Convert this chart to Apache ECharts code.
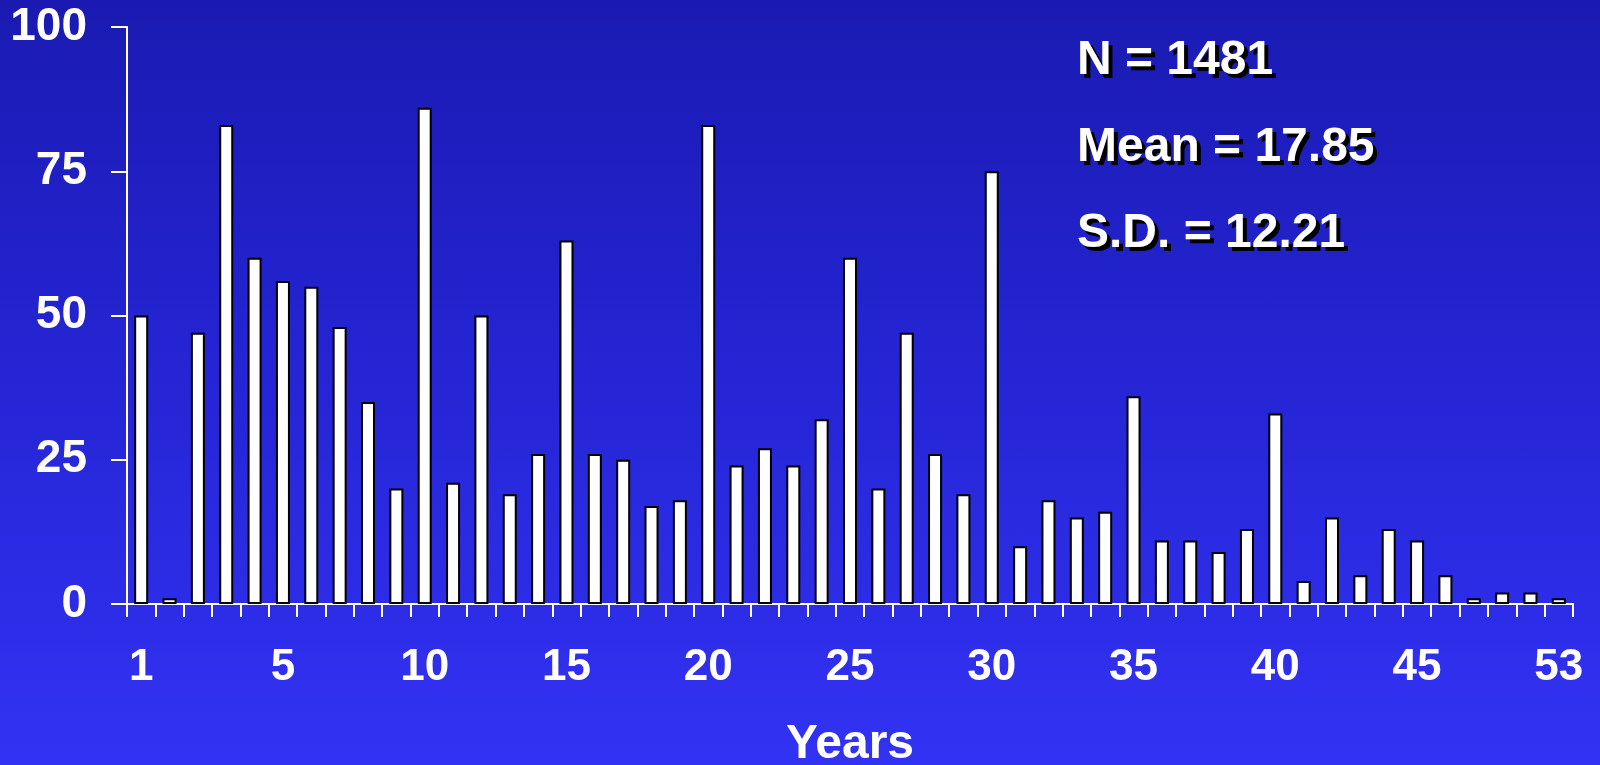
<!DOCTYPE html>
<html>
<head>
<meta charset="utf-8">
<style>
  html, body { margin: 0; padding: 0; }
  #chart {
    width: 1600px; height: 765px;
    background: linear-gradient(to bottom, #1a1ab2 0%, #2424d2 45%, #3232f4 100%);
  }
</style>
<script src="https://cdn.jsdelivr.net/npm/echarts@6/dist/echarts.min.js"></script>
</head>
<body>
<div id="chart"></div>
<script>
// Frequency of cases by year bin (51 bins)
const bins = ['1','2','3','4','5','6','7','8','9','10','11','12','13','14','15','16','17',
  '18','19','20','21','22','23','24','25','26','27','28','29','30','31','32','33','34',
  '35','36','37','38','39','40','41','42','43','44','45','46','47','48','49','50','51'];
const counts = [50, 1, 47, 83, 60, 56, 55, 48, 35, 20,
  86, 21, 50, 19, 26, 63, 26, 25, 17, 18,
  83, 24, 27, 24, 32, 60, 20, 47, 26, 19,
  75, 10, 18, 15, 16, 36, 11, 11, 9, 13,
  33, 4, 15, 5, 13, 11, 5, 1, 2, 2, 1];
// Labels shown under every fifth bin
const xTickLabels = ['1', '5', '10', '15', '20', '25', '30', '35', '40', '45', '53'];
const yTicks = [0, 25, 50, 75, 100];
const stats = ['N = 1481', 'Mean = 17.85', 'S.D. = 12.21'];

const FONT = '"Liberation Sans", Arial, sans-serif';
const chart = echarts.init(document.getElementById('chart'), null, { renderer: 'canvas' });

const statTexts = [];
const statY = [37, 124, 210];
stats.forEach((t, i) => {
  // drop shadow copy
  statTexts.push({
    type: 'text', left: 1081, top: statY[i] + 4, z: 10,
    style: { text: t, fill: '#000', font: 'bold 48px ' + FONT }
  });
  statTexts.push({
    type: 'text', left: 1077, top: statY[i], z: 11,
    style: { text: t, fill: '#fff', font: 'bold 48px ' + FONT }
  });
});

chart.setOption({
  backgroundColor: 'transparent',
  animation: false,
  grid: { left: 127, right: 27, top: 27, bottom: 161, containLabel: false, outerBoundsMode: 'none' },
  xAxis: {
    type: 'category',
    data: bins,
    boundaryGap: true,
    name: 'Years',
    nameLocation: 'middle',
    nameGap: 117,
    nameTextStyle: { color: '#fff', fontSize: 48, fontWeight: 'bold', fontFamily: FONT },
    axisLine: { show: true, lineStyle: { color: '#fff', width: 2 } },
    axisTick: { show: true, interval: 0, length: 13, inside: false, lineStyle: { color: '#fff', width: 2 } },
    axisLabel: {
      show: true, interval: 4, margin: 42,
      color: '#fff', fontSize: 44, fontWeight: 'bold', fontFamily: FONT,
      formatter: (v, i) => (i % 5 === 0 ? xTickLabels[i / 5] : '')
    },
    splitLine: { show: false }
  },
  yAxis: {
    type: 'value',
    min: yTicks[0], max: yTicks[yTicks.length - 1], interval: 25,
    axisLine: { show: true, lineStyle: { color: '#fff', width: 2 } },
    axisTick: { show: true, length: 16, inside: false, lineStyle: { color: '#fff', width: 2 } },
    axisLabel: { margin: 40, color: '#fff', fontSize: 46, fontWeight: 'bold', fontFamily: FONT },
    splitLine: { show: false }
  },
  series: [{
    type: 'bar',
    data: counts,
    barWidth: 14,
    itemStyle: { color: '#fff', borderColor: '#000', borderWidth: 2 }
  }],
  graphic: statTexts
});
</script>
</body>
</html>
